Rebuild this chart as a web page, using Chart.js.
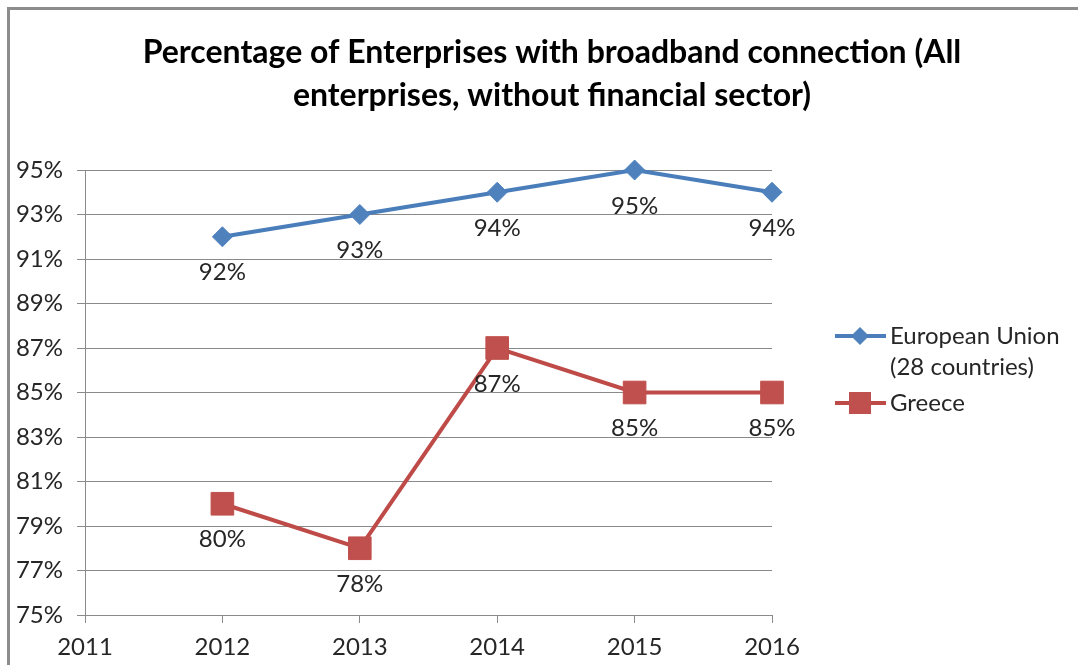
<!DOCTYPE html>
<html>
<head>
<meta charset="utf-8">
<title>Broadband connection</title>
<script src="https://cdn.jsdelivr.net/npm/chart.js@4"></script>
<style>
  html, body { margin: 0; padding: 0; background: #fff; }
  #wrap { position: relative; width: 1078px; height: 665px; }
</style>
</head>
<body>
<div id="wrap"><canvas id="broadband-chart" width="1078" height="665"></canvas></div>
<script>
// years and values (percent of enterprises)
const years = [2012, 2013, 2014, 2015, 2016];
const euValues = [92, 93, 94, 95, 94];
const greeceValues = [80, 78, 87, 85, 85];
const seriesNames = ['European Union (28 countries)', 'Greece'];
const legendLines = [['European Union', '(28 countries)'], ['Greece']];
const titleLines = ['Percentage of Enterprises with broadband connection (All', 'enterprises, without financial sector)'];

const FONT = 'Lato, "Open Sans", sans-serif';
const blue = '#4A7EBB';
const red = '#BE4B48';
const gridGray = '#8a8a8a';

function toPoints(values) {
  return values.map((v, i) => ({ x: years[i], y: v }));
}

// outer frame (top and left edge only)
const framePlugin = {
  id: 'frame',
  beforeDraw(chart) {
    const ctx = chart.ctx;
    ctx.save();
    ctx.strokeStyle = '#8c8c8c';
    ctx.lineWidth = 3;
    ctx.beginPath();
    ctx.moveTo(8.5, 665);
    ctx.lineTo(8.5, 8.5);
    ctx.lineTo(1078, 8.5);
    ctx.stroke();
    ctx.restore();
  }
};

// two line bold title
const titlePlugin = {
  id: 'twoLineTitle',
  afterDraw(chart) {
    const ctx = chart.ctx;
    ctx.save();
    ctx.fillStyle = '#000';
    ctx.font = 'bold 32px ' + FONT;
    ctx.textAlign = 'center';
    ctx.textBaseline = 'middle';
    ctx.fillText(titleLines[0], 552, 53);
    ctx.fillText(titleLines[1], 552, 96);
    ctx.restore();
  }
};

// value labels under each marker
const valueLabels = {
  id: 'valueLabels',
  afterDatasetsDraw(chart) {
    const ctx = chart.ctx;
    ctx.save();
    ctx.fillStyle = '#262626';
    ctx.font = '24px ' + FONT;
    ctx.textAlign = 'center';
    ctx.textBaseline = 'middle';
    chart.data.datasets.forEach((ds, di) => {
      const meta = chart.getDatasetMeta(di);
      meta.data.forEach((pt, i) => {
        ctx.fillText(ds.data[i].y + '%', pt.x, pt.y + 36);
      });
    });
    ctx.restore();
  }
};

// legend on the right side
const sideLegend = {
  id: 'sideLegend',
  afterDraw(chart) {
    const ctx = chart.ctx;
    const rows = [336, 403];
    ctx.save();
    chart.data.datasets.forEach((ds, di) => {
      const y = rows[di];
      ctx.strokeStyle = ds.borderColor;
      ctx.lineWidth = 4;
      ctx.beginPath();
      ctx.moveTo(835, y);
      ctx.lineTo(886, y);
      ctx.stroke();
      ctx.fillStyle = ds.pointBackgroundColor;
      ctx.beginPath();
      if (ds.pointStyle === 'rectRot') {
        ctx.moveTo(860, y - 9);
        ctx.lineTo(869, y);
        ctx.lineTo(860, y + 9);
        ctx.lineTo(851, y);
      } else {
        ctx.rect(849, y - 11, 22, 22);
      }
      ctx.closePath();
      ctx.fill();

      ctx.fillStyle = '#262626';
      ctx.font = '24px ' + FONT;
      ctx.textAlign = 'left';
      ctx.textBaseline = 'middle';
      legendLines[di].forEach((line, li) => {
        ctx.fillText(line, 890, y + li * 31);
      });
    });
    ctx.restore();
  }
};

const ctx = document.getElementById('broadband-chart').getContext('2d');
const broadbandChart = new Chart(ctx, {
  type: 'line',
  data: {
    datasets: [{
      label: seriesNames[0],
      data: toPoints(euValues),
      borderColor: blue,
      backgroundColor: blue,
      borderWidth: 4,
      pointStyle: 'rectRot',
      pointRadius: 10,
      pointBackgroundColor: '#4F81BD',
      pointBorderColor: '#4F81BD',
      pointBorderWidth: 1,
      tension: 0,
      clip: false
    }, {
      label: seriesNames[1],
      data: toPoints(greeceValues),
      borderColor: red,
      backgroundColor: red,
      borderWidth: 4,
      pointStyle: 'rect',
      pointRadius: 16,
      pointBackgroundColor: '#C0504D',
      pointBorderColor: '#C0504D',
      pointBorderWidth: 1,
      tension: 0,
      clip: false
    }]
  },
  options: {
    responsive: false,
    animation: false,
    events: [],
    layout: {
      padding: { top: 170, left: 8, right: 306, bottom: 0 }
    },
    plugins: {
      legend: { display: false },
      title: { display: false },
      tooltip: { enabled: false }
    },
    scales: {
      x: {
        type: 'linear',
        min: 2011,
        max: 2016,
        afterFit(scale) { scale.height = 50; },
        ticks: {
          stepSize: 1,
          padding: 10,
          color: '#262626',
          font: { family: FONT, size: 24 },
          callback: (v) => String(v)
        },
        grid: {
          drawOnChartArea: false,
          drawTicks: true,
          tickLength: 8,
          color: gridGray
        },
        border: { display: true, color: gridGray }
      },
      y: {
        min: 75,
        max: 95,
        afterFit(scale) { scale.width = 77; },
        ticks: {
          stepSize: 2,
          padding: 14,
          color: '#262626',
          font: { family: FONT, size: 24 },
          callback: (v) => v + '%'
        },
        grid: {
          color: gridGray,
          tickLength: 8
        },
        border: { display: true, color: gridGray }
      }
    }
  },
  plugins: [framePlugin, valueLabels, titlePlugin, sideLegend]
});
</script>
</body>
</html>
